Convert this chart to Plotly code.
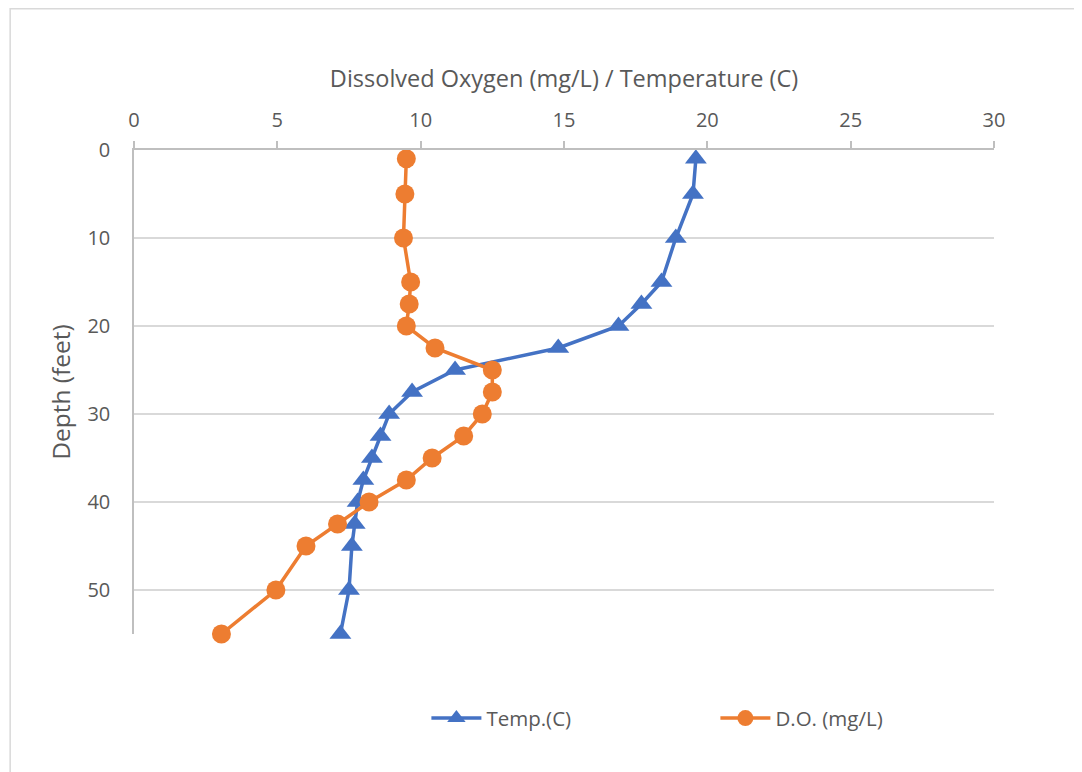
import plotly.graph_objects as go

depth = [1, 5, 10, 15, 17.5, 20, 22.5, 25, 27.5, 30, 32.5, 35, 37.5, 40, 42.5, 45, 50, 55]
temp_c = [19.6, 19.5, 18.9, 18.4, 17.7, 16.9, 14.8, 11.2, 9.7, 8.9, 8.6, 8.3, 8.0, 7.8, 7.7, 7.6, 7.5, 7.2]
do_mgl = [9.5, 9.45, 9.4, 9.65, 9.6, 9.5, 10.5, 12.5, 12.5, 12.15, 11.5, 10.4, 9.5, 8.2, 7.1, 6.0, 4.95, 3.05]

x_ticks = [0, 5, 10, 15, 20, 25, 30]
y_ticks = [0, 10, 20, 30, 40, 50]

BLUE = "#4472C4"
ORANGE = "#ED7D31"
TXT = "#595959"
FONT = "Open Sans"

fig = go.Figure()
fig.add_trace(go.Scatter(
    x=temp_c, y=depth, name="Temp.(C)", mode="lines+markers",
    line=dict(color=BLUE, width=3.5),
    marker=dict(symbol="triangle-up", size=19, color=BLUE),
    cliponaxis=False,
))
fig.add_trace(go.Scatter(
    x=do_mgl, y=depth, name="D.O. (mg/L)", mode="lines+markers",
    line=dict(color=ORANGE, width=3.5),
    marker=dict(symbol="circle", size=19, color=ORANGE),
    cliponaxis=False,
))

fig.update_layout(
    width=1082, height=772,
    margin=dict(l=126, r=96, t=142, b=146),
    paper_bgcolor="white", plot_bgcolor="white",
    font=dict(family=FONT, color=TXT, size=20),
    showlegend=True,
    legend=dict(
        orientation="h", x=0.34, y=-0.174, xanchor="left", yanchor="middle",
        font=dict(size=20.5, color=TXT), entrywidth=224, entrywidthmode="pixels",
        itemwidth=50, traceorder="normal",
    ),
    xaxis=dict(
        side="top", range=[0, 30], tickvals=x_ticks, showgrid=False,
        showline=True, linecolor="#BFBFBF", linewidth=1.5,
        ticks="outside", ticklen=7, tickcolor="#BFBFBF", tickwidth=1.5,
        tickfont=dict(size=20, color=TXT), zeroline=False, ticklabelstandoff=6,
        title=dict(text="Dissolved Oxygen (mg/L) / Temperature (C)", font=dict(size=23.5, color=TXT), standoff=12),
    ),
    yaxis=dict(
        range=[55, 0], tickvals=y_ticks, showgrid=True, gridcolor="#D9D9D9", gridwidth=1.5,
        showline=True, linecolor="#BFBFBF", linewidth=1.5, zeroline=False,
        ticks="", tickfont=dict(size=20, color=TXT), ticklabelstandoff=18,
        title=dict(text="Depth (feet)", font=dict(size=24.5, color=TXT), standoff=10),
    ),
    shapes=[dict(type="rect", xref="paper", yref="paper",
                 x0=-0.144, x1=1.2, y0=-0.4, y1=1.292,
                 line=dict(color="#D9D9D9", width=1.5), fillcolor="rgba(0,0,0,0)", layer="below")],
)

fig.write_html("out.html")
